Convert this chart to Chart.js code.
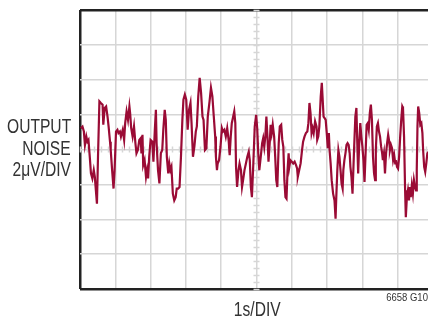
<!DOCTYPE html>
<html>
<head>
<meta charset="utf-8">
<script src="https://cdn.jsdelivr.net/npm/chart.js@4/dist/chart.umd.min.js"></script>
<style>
    body { margin: 0; width: 428px; height: 320px; overflow: hidden; background: #fff; position: relative; }
    canvas { position: absolute; left: 0; top: 0; }
    .lbl { position: absolute; font-family: "Liberation Sans", Arial, sans-serif; color: #333; white-space: nowrap; }
    .lbl span { display: inline-block; transform: scaleX(0.8); }
    #ylbl { left: -60px; width: 131px; top: 116px; font-size: 19.5px; line-height: 21.5px; text-align: right; }
    #ylbl span { transform-origin: 100% 50%; }
    #xlbl { left: 207px; width: 100px; top: 299px; font-size: 19.5px; line-height: 21px; text-align: center; }
    #xlbl span { transform-origin: 50% 50%; }
    #code { left: 328px; width: 100px; top: 292px; font-size: 10px; line-height: 12px; text-align: right; }
    #code span { transform: scaleX(0.95); transform-origin: 100% 50%; }
</style>
</head>
<body>
<canvas id="noiseChart" width="440" height="320"></canvas>
<div class="lbl" id="ylbl"><span>OUTPUT</span><br><span>NOISE</span><br><span>2μV/DIV</span></div>
<div class="lbl" id="xlbl"><span>1s/DIV</span></div>
<div class="lbl" id="code"><span>6658 G10</span></div>
<script>
// time in seconds (1s/DIV), noise in μV (2μV/DIV)
const timeS = [
    0.02, 0.07, 0.11, 0.14, 0.18, 0.21, 0.24, 0.28, 0.31, 0.35, 0.39, 0.42, 0.45, 0.48, 0.51, 0.55, 0.59, 0.64, 0.66, 0.70,
    0.74, 0.78, 0.81, 0.85, 0.87, 0.91, 0.95, 0.98, 1.02, 1.06, 1.09, 1.13, 1.16, 1.21, 1.25, 1.28, 1.32, 1.36, 1.40, 1.42,
    1.45, 1.49, 1.53, 1.57, 1.60, 1.64, 1.68, 1.72, 1.74, 1.77, 1.79, 1.83, 1.87, 1.90, 1.93, 1.96, 2.00, 2.05, 2.08, 2.12,
    2.15, 2.17, 2.21, 2.25, 2.29, 2.33, 2.36, 2.40, 2.43, 2.46, 2.50, 2.53, 2.56, 2.59, 2.63, 2.67, 2.71, 2.74, 2.78, 2.82,
    2.86, 2.90, 2.93, 2.97, 3.01, 3.05, 3.09, 3.13, 3.16, 3.20, 3.24, 3.28, 3.31, 3.35, 3.39, 3.43, 3.47, 3.50, 3.54, 3.58,
    3.62, 3.67, 3.71, 3.75, 3.79, 3.83, 3.85, 3.88, 3.90, 3.94, 3.98, 4.02, 4.05, 4.09, 4.13, 4.17, 4.21, 4.24, 4.27, 4.30,
    4.34, 4.37, 4.40, 4.42, 4.45, 4.49, 4.52, 4.56, 4.59, 4.62, 4.66, 4.70, 4.74, 4.78, 4.81, 4.84, 4.87, 4.91, 4.95, 4.99,
    5.02, 5.05, 5.08, 5.12, 5.16, 5.19, 5.22, 5.25, 5.28, 5.31, 5.34, 5.38, 5.40, 5.43, 5.46, 5.50, 5.53, 5.56, 5.59, 5.63,
    5.66, 5.70, 5.73, 5.76, 5.79, 5.82, 5.85, 5.88, 5.91, 5.93, 5.96, 6.00, 6.04, 6.08, 6.12, 6.15, 6.17, 6.21, 6.25, 6.29,
    6.32, 6.36, 6.40, 6.44, 6.47, 6.50, 6.53, 6.56, 6.59, 6.62, 6.66, 6.70, 6.72, 6.75, 6.78, 6.82, 6.85, 6.87, 6.90, 6.93,
    6.96, 6.99, 7.02, 7.05, 7.07, 7.10, 7.13, 7.17, 7.21, 7.24, 7.26, 7.29, 7.32, 7.35, 7.38, 7.41, 7.44, 7.46, 7.49, 7.52,
    7.55, 7.58, 7.61, 7.64, 7.66, 7.69, 7.72, 7.76, 7.80, 7.83, 7.85, 7.88, 7.91, 7.94, 7.97, 8.00, 8.03, 8.06, 8.09, 8.12,
    8.15, 8.18, 8.21, 8.24, 8.27, 8.30, 8.33, 8.36, 8.38, 8.41, 8.44, 8.47, 8.50, 8.53, 8.56, 8.58, 8.61, 8.64, 8.67, 8.70,
    8.73, 8.76, 8.78, 8.81, 8.84, 8.87, 8.90, 8.93, 8.95, 8.98, 9.01, 9.04, 9.07, 9.10, 9.13, 9.15, 9.18, 9.21, 9.23, 9.26,
    9.29, 9.32, 9.34, 9.37, 9.40, 9.43, 9.46, 9.49, 9.52, 9.54, 9.56, 9.58, 9.61, 9.64, 9.67, 9.70, 9.72, 9.75, 9.78, 9.81,
    9.84, 9.87
];

const noiseUV = [
    1.22, 1.32, 1.03, 0.26, 0.74, 0.45, 0.55, -0.51, -1.37, -1.66, -1.18, -1.57, -2.34, -3.11, -0.42, 2.76, 2.67, 2.57, 1.42, 2.38,
    2.47, 1.89, 1.32, 0.45, -0.03, -1.18, -2.24, -1.18, 1.03, 1.13, 0.94, 1.03, 0.74, 1.13, 0.55, 1.51, 2.18, 1.70, 2.47, 2.09,
    1.22, 0.74, 1.32, 0.36, -0.22, -0.03, 0.55, 0.65, -0.22, 0.84, -0.90, -0.61, -1.57, -1.18, -1.66, -0.42, 0.55, 0.45, -0.70, 1.13,
    2.28, 0.36, -1.18, -1.95, -0.22, -0.03, 1.13, 2.28, 1.70, -0.42, -1.37, -0.80, -1.18, -0.99, -2.53, -2.92, -2.73, -2.24, -2.24, -2.15,
    -0.42, 1.70, 2.86, 3.15, 2.86, 1.13, 2.28, 2.67, 1.51, -0.42, 0.16, 1.03, 1.32, 3.05, 4.11, 3.25, 1.89, 1.70, -0.03, 0.07,
    1.89, 2.76, 3.54, 3.05, 1.89, 0.74, -0.42, -1.18, -0.80, -0.61, 0.16, 1.22, 1.03, 1.13, 0.74, 1.22, 0.55, -0.32, 0.74, 1.51,
    1.89, 2.18, 1.51, -0.99, -2.15, -1.18, -0.80, -1.18, -2.15, -1.76, -1.18, -0.80, -0.42, -0.13, -0.61, -2.15, -2.73, -0.80, 1.32, 1.99,
    1.22, -0.22, -1.18, -0.42, 0.36, 0.65, 0.16, 0.74, 1.89, 0.74, -0.70, 0.55, 1.42, 0.94, 1.42, 0.74, -0.42, -1.76, -2.15, 0.36,
    1.32, 1.42, 0.55, 0.16, -1.76, -2.73, -2.82, -1.18, -0.22, -0.99, -0.61, -0.70, -0.80, -0.70, -0.90, -1.09, -1.57, -1.18, -0.80, -0.03,
    0.45, 0.74, 0.94, 1.03, 1.51, 2.67, 2.09, 0.94, 1.22, 0.94, 1.61, 1.32, 0.55, 0.74, 1.32, 3.05, 3.82, 3.05, 1.89, 1.80,
    1.70, 0.94, 0.07, 0.94, -0.03, -0.80, -1.76, -2.53, -2.92, -3.97, -2.73, -1.18, -0.03, -0.42, -1.18, -1.95, -2.24, -1.18, -0.61, -0.22,
    0.26, 0.36, 0.26, -0.22, -0.99, -1.57, -2.53, -0.22, 1.89, 2.38, 0.74, -1.37, 0.36, 1.51, 0.74, 0.16, -0.61, -1.86, -0.22, 1.42,
    1.51, 1.13, 2.09, 2.57, 1.70, -0.42, -1.37, -1.76, -0.03, 1.32, 1.51, 1.03, 0.74, 0.16, -0.22, -0.61, -0.22, -1.37, -0.22, 0.36,
    0.84, 0.45, -0.03, 0.26, 0.07, -0.61, -0.32, -0.80, -0.61, -0.99, -1.09, -0.42, 0.74, 1.70, 2.47, 2.38, 0.74, -2.34, -3.88, -2.73,
    -2.34, -2.92, -2.15, -2.73, -2.05, -2.53, -1.76, -2.15, -2.34, -1.18, 1.32, 2.47, 2.09, 1.42, 1.51, 0.94, -0.03, -0.99, -1.28, -0.80,
    -0.22, -0.13
];

const xMin = 0, xMax = 10, xStep = 1;
const yMin = -8, yMax = 8, yStep = 2;

const gridGrey = "#d6d6d6";
const frameColor = "#222222";
const traceColor = "#9a0b35";

function edgeColor(ctx, lo, hi) {
    const v = ctx.tick.value;
    return (v === lo || v === hi) ? frameColor : gridGrey;
}
function edgeWidth(ctx, lo, hi) {
    const v = ctx.tick.value;
    return (v === lo || v === hi) ? 2.5 : 1.5;
}

// small division marks along the centre cross
const centreTicks = {
    id: "centreTicks",
    beforeDatasetsDraw(chart) {
        const c = chart.ctx;
        const xs = chart.scales.x;
        const ys = chart.scales.y;
        const cx = xs.getPixelForValue((xMin + xMax) / 2);
        const cy = ys.getPixelForValue((yMin + yMax) / 2);
        c.save();
        c.strokeStyle = gridGrey;
        c.lineWidth = 1.5;
        c.beginPath();
        for (let t = xMin; t <= xMax + 1e-9; t += xStep / 5) {
            const px = Math.round(xs.getPixelForValue(t)) + 0.5;
            c.moveTo(px, cy - 3);
            c.lineTo(px, cy + 3);
        }
        for (let v = yMin; v <= yMax + 1e-9; v += yStep / 5) {
            const py = Math.round(ys.getPixelForValue(v)) + 0.5;
            c.moveTo(cx - 3, py);
            c.lineTo(cx + 3, py);
        }
        c.stroke();
        c.restore();
    }
};

new Chart(noiseChart, {
    type: "line",
    data: {
        datasets: [{
            data: timeS.map((t, i) => ({ x: t, y: noiseUV[i] })),
            borderColor: traceColor,
            borderWidth: 2.2,
            pointRadius: 0,
            tension: 0,
            fill: false
        }]
    },
    options: {
        responsive: false,
        animation: false,
        devicePixelRatio: 1,
        layout: { padding: { left: 80, top: 10, right: 7, bottom: 31 } },
        plugins: { legend: { display: false }, tooltip: { enabled: false } },
        scales: {
            x: {
                type: "linear",
                min: xMin,
                max: xMax,
                ticks: { stepSize: xStep, display: false },
                border: { display: false },
                grid: {
                    drawTicks: false,
                    color: ctx => edgeColor(ctx, xMin, xMax),
                    lineWidth: ctx => edgeWidth(ctx, xMin, xMax)
                }
            },
            y: {
                min: yMin,
                max: yMax,
                ticks: { stepSize: yStep, display: false },
                border: { display: false },
                grid: {
                    drawTicks: false,
                    color: ctx => edgeColor(ctx, yMin, yMax),
                    lineWidth: ctx => edgeWidth(ctx, yMin, yMax)
                }
            }
        }
    },
    plugins: [centreTicks]
});
</script>
</body>
</html>
